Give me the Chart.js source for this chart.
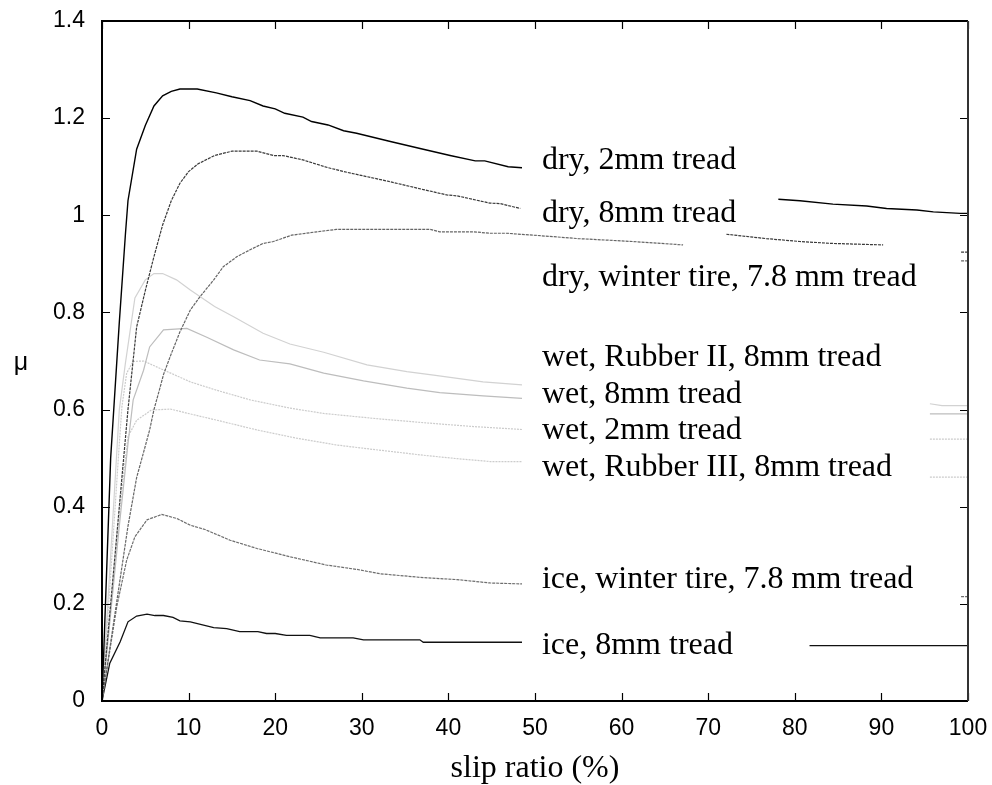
<!DOCTYPE html>
<html>
<head>
<meta charset="utf-8">
<title>Friction coefficient vs slip ratio</title>
<script src="https://cdn.jsdelivr.net/npm/chart.js@4.4.0/dist/chart.umd.min.js"></script>
<style>
    html, body { margin: 0; padding: 0; background: #ffffff; }
    #wrap { width: 992px; height: 785px; }
</style>
</head>
<body>
<div id="wrap"><canvas id="chart" width="992" height="785"></canvas></div>
<script>
// Curves (x = slip ratio %, y = mu). null = hidden gap.
const dry2mmX = [0, 1, 2, 2.7, 3, 4, 5, 6, 7, 8, 9, 11, 13.2, 15, 17.1, 18.6, 20, 21.1, 23.2, 24.2, 26.1, 27.9, 29.4, 33.3, 37.1, 40.2, 43.1, 44.2, 46.9, 48.5, 60, 78.1, 80.6, 84.4, 88.3, 90.6, 94.1, 96, 99.1, 100];
const dry2mmY = [0, 0.5, 0.78, 0.96, 1.03, 1.136, 1.185, 1.225, 1.246, 1.255, 1.26, 1.26, 1.252, 1.244, 1.236, 1.225, 1.219, 1.21, 1.202, 1.193, 1.186, 1.174, 1.169, 1.152, 1.136, 1.123, 1.112, 1.112, 1.10, 1.098, null, 1.033, 1.030, 1.023, 1.019, 1.014, 1.011, 1.007, 1.004, 1.004];

const dry8mmX = [0, 1, 2, 3, 4, 5, 5.5, 6, 7, 8, 9, 10, 11.1, 13, 15, 17.9, 19.8, 20.9, 23.2, 25.9, 27.9, 33.3, 37.1, 39.8, 41, 44.8, 46, 48.3, 60, 72.1, 76.7, 80.6, 84.4, 90.2, 95, 99.2, 100];
const dry8mmY = [0, 0.2, 0.4, 0.6, 0.77, 0.845, 0.88, 0.915, 0.98, 1.03, 1.066, 1.09, 1.106, 1.123, 1.132, 1.132, 1.123, 1.123, 1.114, 1.099, 1.09, 1.069, 1.053, 1.042, 1.04, 1.025, 1.024, 1.014, null, 0.961, 0.952, 0.946, 0.942, 0.939, null, 0.924, 0.924];

const dryWinterX = [0, 1, 2, 3, 4, 5, 5.5, 6, 6.7, 7.1, 8, 9, 10.2, 11.3, 12.9, 14, 15.6, 17.1, 18.6, 19.8, 21.9, 24.8, 27.1, 37.9, 39, 42.9, 44.8, 46.7, 50.6, 55, 61.3, 67.1, 80, 99.2, 100];
const dryWinterY = [0, 0.12, 0.24, 0.36, 0.46, 0.525, 0.558, 0.6, 0.645, 0.672, 0.715, 0.76, 0.805, 0.832, 0.867, 0.894, 0.915, 0.929, 0.942, 0.946, 0.959, 0.966, 0.971, 0.971, 0.966, 0.966, 0.963, 0.963, 0.958, 0.952, 0.946, 0.939, null, 0.906, 0.906];

const wetRubber2X = [0, 1, 2, 2.7, 3.8, 5, 6, 7, 8.6, 10.2, 13, 15.2, 18.6, 21.7, 25.6, 30.6, 35.2, 38.3, 44, 48.5, 70, 95.6, 97, 100];
const wetRubber2Y = [0, 0.3, 0.6, 0.695, 0.83, 0.867, 0.88, 0.88, 0.867, 0.846, 0.812, 0.791, 0.757, 0.735, 0.718, 0.692, 0.678, 0.671, 0.657, 0.651, null, 0.612, 0.608, 0.608];

const wet8mmX = [0, 1, 2, 3, 3.6, 4.8, 5.5, 7.1, 9.8, 12.1, 15.2, 18.2, 21.7, 25.6, 30.2, 35.2, 39, 44, 48.5, 70, 95.6, 100];
const wet8mmY = [0, 0.18, 0.36, 0.53, 0.62, 0.681, 0.729, 0.764, 0.767, 0.749, 0.723, 0.702, 0.694, 0.675, 0.659, 0.644, 0.635, 0.628, 0.623, null, 0.591, 0.591];

const wet2mmX = [0, 1, 2, 2.3, 2.85, 3.6, 4.8, 6.3, 10.2, 13.2, 17.1, 21.7, 25.6, 31.3, 37.1, 42.9, 48.5, 70, 95.6, 100];
const wet2mmY = [0, 0.26, 0.53, 0.606, 0.675, 0.699, 0.70, 0.688, 0.657, 0.64, 0.62, 0.603, 0.592, 0.582, 0.573, 0.565, 0.559, null, 0.539, 0.539];

const wetRubber3X = [0, 1, 2, 2.5, 3, 4, 5.7, 7.9, 10.2, 14, 17.9, 22.5, 27.1, 31.3, 37.1, 41, 44.8, 48.5, 70, 95.6, 100];
const wetRubber3Y = [0, 0.19, 0.38, 0.469, 0.544, 0.578, 0.599, 0.601, 0.591, 0.575, 0.558, 0.541, 0.527, 0.518, 0.506, 0.499, 0.493, 0.493, null, 0.461, 0.461];

const iceWinterX = [0, 1, 1.7, 2.85, 3.8, 5.2, 6.9, 8.6, 10.2, 11.9, 14.8, 17.9, 21.7, 25.9, 29.4, 32.1, 37.1, 41, 44.8, 48.5, 70, 99.2, 100];
const iceWinterY = [0, 0.115, 0.194, 0.29, 0.338, 0.373, 0.384, 0.376, 0.362, 0.353, 0.331, 0.314, 0.297, 0.28, 0.271, 0.262, 0.254, 0.25, 0.243, 0.241, null, 0.215, 0.215];

const ice8mmX = [0, 0.9, 2.1, 3, 4, 5.2, 6.1, 7.1, 8.2, 9, 10.2, 12.9, 14.4, 15.9, 18, 19, 20, 21.3, 24, 25.2, 29, 30.2, 36.7, 37.1, 48.5, 65, 81.7, 100];
const ice8mmY = [0, 0.078, 0.122, 0.163, 0.175, 0.179, 0.176, 0.176, 0.172, 0.165, 0.163, 0.151, 0.149, 0.143, 0.143, 0.139, 0.139, 0.135, 0.135, 0.13, 0.13, 0.126, 0.126, 0.121, 0.121, null, 0.114, 0.114];

const seriesNames = [
    'dry, 2mm tread',
    'dry, 8mm tread',
    'dry, winter tire, 7.8 mm tread',
    'wet, Rubber II, 8mm tread',
    'wet, 8mm tread',
    'wet, 2mm tread',
    'wet, Rubber III, 8mm tread',
    'ice, winter tire, 7.8 mm tread',
    'ice, 8mm tread'
];

const xTicks = [0, 10, 20, 30, 40, 50, 60, 70, 80, 90, 100];
const yTicks = [0, 0.2, 0.4, 0.6, 0.8, 1, 1.2, 1.4];

function toPoints(xs, ys) {
    return xs.map((x, i) => ({ x: x, y: ys[i] }));
}

const curves = [
    { x: dry2mmX, y: dry2mmY, color: '#000000', width: 1.4, dash: [] },
    { x: dry8mmX, y: dry8mmY, color: '#3a3a3a', width: 1.2, dash: [3, 1] },
    { x: dryWinterX, y: dryWinterY, color: '#666666', width: 1.2, dash: [3, 1] },
    { x: wetRubber2X, y: wetRubber2Y, color: '#d2d2d2', width: 1.2, dash: [] },
    { x: wet8mmX, y: wet8mmY, color: '#bdbdbd', width: 1.2, dash: [] },
    { x: wet2mmX, y: wet2mmY, color: '#cccccc', width: 1.2, dash: [2, 1] },
    { x: wetRubber3X, y: wetRubber3Y, color: '#cccccc', width: 1.2, dash: [2, 1] },
    { x: iceWinterX, y: iceWinterY, color: '#6e6e6e', width: 1.2, dash: [3, 1] },
    { x: ice8mmX, y: ice8mmY, color: '#111111', width: 1.3, dash: [] }
];

// Curve labels placed inside the plot (x in %, y in mu)
const labelPlugin = {
    id: 'curveLabels',
    afterDatasetsDraw(chart, args, opts) {
        const ctx = chart.ctx;
        const xs = chart.scales.x;
        const ys = chart.scales.y;
        ctx.save();
        ctx.font = opts.font;
        ctx.fillStyle = '#000';
        ctx.textAlign = 'left';
        ctx.textBaseline = 'middle';
        seriesNames.forEach((name, i) => {
            ctx.fillText(name, xs.getPixelForValue(opts.x), ys.getPixelForValue(opts.y[i]));
        });
        ctx.restore();
    }
};

// Box frame with inward ticks on all four sides, plus the upright mu title
const framePlugin = {
    id: 'frame',
    afterDraw(chart) {
        const ctx = chart.ctx;
        const a = chart.chartArea;
        const xs = chart.scales.x;
        const ys = chart.scales.y;
        const len = 8;
        ctx.save();
        ctx.strokeStyle = '#000';
        ctx.lineWidth = 1.2;
        ctx.beginPath();
        xTicks.forEach(v => {
            const px = Math.round(xs.getPixelForValue(v)) + 0.5;
            ctx.moveTo(px, a.bottom); ctx.lineTo(px, a.bottom - len);
            ctx.moveTo(px, a.top); ctx.lineTo(px, a.top + len);
        });
        yTicks.forEach(v => {
            const py = Math.round(ys.getPixelForValue(v)) + 0.5;
            ctx.moveTo(a.left, py); ctx.lineTo(a.left + len, py);
            ctx.moveTo(a.right, py); ctx.lineTo(a.right - len, py);
        });
        ctx.stroke();

        ctx.lineWidth = 2;
        ctx.strokeStyle = '#000';
        ctx.beginPath();
        ctx.moveTo(a.right, a.top);
        ctx.lineTo(a.left, a.top);
        ctx.lineTo(a.left, a.bottom);
        ctx.lineTo(a.right, a.bottom);
        ctx.stroke();
        ctx.strokeStyle = '#333';
        ctx.beginPath();
        ctx.moveTo(a.right, a.top);
        ctx.lineTo(a.right, a.bottom);
        ctx.stroke();

        ctx.fillStyle = '#000';
        ctx.font = '25px "Liberation Sans", Arial, sans-serif';
        ctx.textAlign = 'center';
        ctx.textBaseline = 'middle';
        ctx.fillText('μ', 21, (a.top + a.bottom) / 2 + 2);
        ctx.restore();
    }
};

const tickFont = { family: '"Liberation Sans", Arial, sans-serif', size: 23 };

new Chart(document.getElementById('chart'), {
    type: 'scatter',
    data: {
        datasets: curves.map((c, i) => ({
            label: seriesNames[i],
            data: toPoints(c.x, c.y),
            showLine: true,
            spanGaps: false,
            borderColor: c.color,
            borderWidth: c.width,
            borderDash: c.dash,
            pointRadius: 0,
            tension: 0
        }))
    },
    options: {
        responsive: false,
        animation: false,
        layout: { padding: { top: 21, right: 24, left: 0, bottom: 0 } },
        plugins: {
            legend: { display: false },
            tooltip: { enabled: false },
            curveLabels: {
                font: '32px "Liberation Serif", "Times New Roman", serif',
                x: 50.8,
                y: [1.112, 1.003, 0.871, 0.706, 0.630, 0.556, 0.480, 0.249, 0.114]
            }
        },
        scales: {
            x: {
                type: 'linear',
                min: 0,
                max: 100,
                afterFit: s => { s.height = 84; s.paddingLeft = 0; s.paddingRight = 0; },
                afterBuildTicks: s => { s.ticks = xTicks.map(v => ({ value: v })); },
                grid: { display: false },
                border: { display: false },
                ticks: { color: '#000', font: tickFont, padding: 6, maxRotation: 0 },
                title: {
                    display: true,
                    text: 'slip ratio (%)',
                    color: '#000',
                    font: { family: '"Liberation Serif", "Times New Roman", serif', size: 32, lineHeight: 1.05 },
                    padding: { top: 0, bottom: 0 }
                }
            },
            y: {
                type: 'linear',
                min: 0,
                max: 1.4,
                afterFit: s => { s.width = 102; s.paddingTop = 0; s.paddingBottom = 0; },
                afterBuildTicks: s => { s.ticks = yTicks.map(v => ({ value: v })); },
                grid: { display: false },
                border: { display: false },
                ticks: {
                    color: '#000',
                    font: tickFont,
                    padding: 9,
                    callback: v => String(Math.round(v * 10) / 10)
                }
            }
        }
    },
    plugins: [labelPlugin, framePlugin]
});
</script>
</body>
</html>
